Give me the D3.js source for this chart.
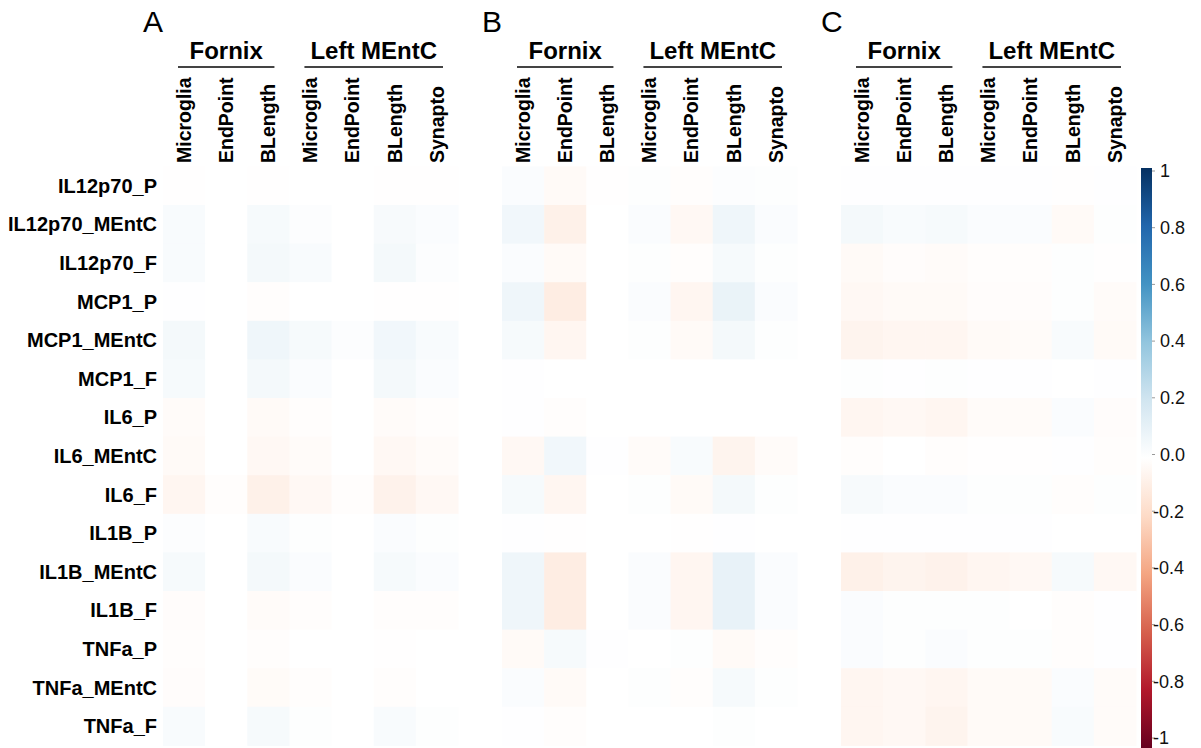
<!DOCTYPE html>
<html>
<head>
<meta charset="utf-8">
<script src="https://cdn.jsdelivr.net/npm/d3@7"></script>
<style>
  body { margin: 0; background: #fff; }
  svg { display: block; font-family: "Liberation Sans", Arial, sans-serif; }
</style>
</head>
<body>
<svg id="chart" width="1201" height="748"></svg>
<script>
// row / column categories
const rowLabels = ['IL12p70_P', 'IL12p70_MEntC', 'IL12p70_F', 'MCP1_P', 'MCP1_MEntC', 'MCP1_F',
  'IL6_P', 'IL6_MEntC', 'IL6_F', 'IL1B_P', 'IL1B_MEntC', 'IL1B_F', 'TNFa_P', 'TNFa_MEntC', 'TNFa_F'];
const colLabels = ['Microglia', 'EndPoint', 'BLength', 'Microglia', 'EndPoint', 'BLength', 'Synapto'];
const groups = [
  { name: 'Fornix', from: 0, to: 2 },
  { name: 'Left MEntC', from: 3, to: 6 }
];
const panelNames = ['A', 'B', 'C'];

// correlation values, rows x columns
const panelA = [
  [-0.005, 0, -0.005, 0, 0, -0.005, -0.005],
  [0.03, 0, 0.04, 0.015, 0, 0.035, 0.02],
  [0.03, 0, 0.05, 0.03, 0, 0.05, 0.015],
  [0.005, 0, -0.01, 0, 0, -0.005, -0.005],
  [0.05, 0, 0.07, 0.04, 0.015, 0.06, 0.03],
  [0.04, 0, 0.05, 0.02, 0, 0.05, 0.02],
  [-0.02, 0, -0.03, -0.01, 0, -0.02, -0.01],
  [-0.03, 0, -0.04, -0.02, 0, -0.04, -0.02],
  [-0.05, -0.01, -0.08, -0.04, -0.01, -0.07, -0.04],
  [0.015, 0, 0.03, 0.01, 0, 0.02, 0.01],
  [0.04, 0, 0.05, 0.02, 0, 0.04, 0.02],
  [-0.015, 0, -0.02, -0.01, 0, -0.01, -0.01],
  [-0.01, 0, -0.01, 0, 0, -0.005, 0],
  [-0.015, 0, -0.025, -0.01, 0, -0.01, 0],
  [0.03, 0, 0.04, 0.01, 0, 0.03, 0.01]
];
const panelB = [
  [0.02, -0.03, -0.005, 0.01, -0.01, 0.015, 0.01],
  [0.06, -0.08, 0, 0.02, -0.04, 0.07, 0.02],
  [0.02, -0.03, 0, 0.01, -0.01, 0.04, 0.01],
  [0.07, -0.1, 0, 0.02, -0.05, 0.09, 0.02],
  [0.04, -0.05, 0, 0.01, -0.03, 0.05, 0.01],
  [0.005, 0, 0, 0, 0, 0, 0],
  [0.005, -0.01, 0, 0, 0, 0, 0],
  [-0.04, 0.06, 0.005, -0.02, 0.03, -0.06, -0.02],
  [0.04, -0.05, 0, 0.01, -0.03, 0.05, 0.01],
  [0.005, -0.005, 0, 0, -0.005, 0.005, 0],
  [0.07, -0.1, 0, 0.02, -0.05, 0.1, 0.02],
  [0.07, -0.1, 0, 0.02, -0.05, 0.1, 0.02],
  [-0.03, 0.04, 0.005, 0, 0.01, -0.03, -0.01],
  [0.02, -0.03, 0, 0.01, -0.01, 0.04, 0.01],
  [0.005, -0.01, 0, 0, 0, 0.01, 0]
];
const panelC = [
  [0.005, 0.005, 0.005, 0.005, 0.005, -0.005, 0.005],
  [0.05, 0.03, 0.04, 0.02, 0.02, -0.03, 0.01],
  [-0.03, -0.015, -0.02, -0.01, -0.01, 0.01, -0.005],
  [-0.04, -0.03, -0.03, -0.015, -0.015, 0.01, -0.02],
  [-0.06, -0.05, -0.05, -0.03, -0.02, 0.03, -0.03],
  [0.01, 0.005, 0.01, 0.005, 0.005, 0, 0.005],
  [-0.05, -0.04, -0.05, -0.02, -0.02, 0.02, -0.015],
  [-0.01, 0, -0.01, -0.005, -0.005, 0.005, -0.01],
  [0.035, 0.02, 0.02, 0.01, 0.01, -0.01, 0.01],
  [0.005, 0.005, 0.005, 0.005, 0.005, 0, 0],
  [-0.08, -0.06, -0.07, -0.05, -0.04, 0.04, -0.04],
  [0.02, 0.01, 0.01, 0.01, 0, -0.01, 0.005],
  [0.02, 0.01, 0.02, 0.01, 0.01, -0.01, 0.005],
  [-0.05, -0.04, -0.05, -0.03, -0.03, 0.02, -0.02],
  [-0.05, -0.04, -0.06, -0.03, -0.03, 0.03, -0.02]
];
const panels = [panelA, panelB, panelC];
const legendTicks = [1, 0.8, 0.6, 0.4, 0.2, 0, -0.2, -0.4, -0.6, -0.8, -1];
const legendLabels = ['1', '0.8', '0.6', '0.4', '0.2', '0.0', '-0.2', '-0.4', '-0.6', '-0.8', '-1'];

// layout
const svg = d3.select('#chart');
const panelX = [163, 502, 841];
const gridWidth = 295;
const gridTop = 166.4;
const gridBottom = 745.4;

// corrplot RdBu ramp
const paletteStops = ['#67001F', '#B2182B', '#D6604D', '#F4A582', '#FDDBC7', '#FFFFFF',
  '#D1E5F0', '#92C5DE', '#4393C3', '#2166AC', '#053061'];
const color = d3.scaleLinear()
  .domain(d3.range(11).map(i => -1 + i * 0.2))
  .range(paletteStops)
  .interpolate(d3.interpolateRgb)
  .clamp(true);

const yScale = d3.scaleBand()
  .domain(rowLabels)
  .range([gridTop, gridBottom])
  .padding(0);

// row labels
svg.append('g')
  .selectAll('text')
  .data(rowLabels)
  .enter()
  .append('text')
  .attr('x', 157)
  .attr('y', d => yScale(d) + yScale.bandwidth() / 2)
  .attr('dy', '0.35em')
  .attr('text-anchor', 'end')
  .style('font-size', '20px')
  .style('font-weight', 'bold')
  .text(d => d);

panels.forEach((values, p) => {
  const x0 = panelX[p];
  const xScale = d3.scaleBand()
    .domain(d3.range(colLabels.length))
    .range([x0, x0 + gridWidth]);
  const g = svg.append('g').classed('panel', true);

  // cells
  const cells = [];
  values.forEach((row, i) => row.forEach((v, j) => cells.push({ r: rowLabels[i], c: j, v: v })));
  g.append('g')
    .selectAll('rect')
    .data(cells)
    .enter()
    .append('rect')
    .attr('x', d => xScale(d.c))
    .attr('y', d => yScale(d.r))
    .attr('width', xScale.bandwidth() + 0.5)
    .attr('height', yScale.bandwidth() + 0.5)
    .style('fill', d => color(d.v));

  // panel letter
  g.append('text')
    .attr('x', x0 - 20)
    .attr('y', 32)
    .style('font-size', '30px')
    .text(panelNames[p]);

  // group headers
  groups.forEach(grp => {
    const a = xScale(grp.from) + 15;
    const b = xScale(grp.to) + xScale.bandwidth() - 15;
    g.append('line')
      .attr('x1', a).attr('x2', b)
      .attr('y1', 67).attr('y2', 67)
      .style('stroke', '#444')
      .style('stroke-width', 2);
    g.append('text')
      .attr('x', (a + b) / 2)
      .attr('y', 59)
      .attr('text-anchor', 'middle')
      .style('font-size', '24px')
      .style('font-weight', 'bold')
      .text(grp.name);
  });

  // column labels
  g.append('g')
    .selectAll('text')
    .data(colLabels)
    .enter()
    .append('text')
    .attr('transform', (d, j) => `translate(${xScale(j) + xScale.bandwidth() / 2},163) rotate(-90)`)
    .attr('dy', '0.35em')
    .attr('text-anchor', 'start')
    .style('font-size', '19.5px')
    .style('font-weight', 'bold')
    .text(d => d);
});

// colour legend
const legendTop = 168, legendBottom = 748, legendX = 1141, legendW = 11;
const legendScale = d3.scaleLinear().domain([1, -1]).range([171, 738]);
const defs = svg.append('defs');
const grad = defs.append('linearGradient')
  .attr('id', 'legendGrad')
  .attr('x1', 0).attr('x2', 0).attr('y1', 0).attr('y2', 1);
grad.selectAll('stop')
  .data(d3.range(0, 1.0001, 0.1))
  .enter()
  .append('stop')
  .attr('offset', d => d)
  .attr('stop-color', d => color(1 - 2 * d));
svg.append('rect')
  .attr('x', legendX)
  .attr('y', legendTop)
  .attr('width', legendW)
  .attr('height', legendBottom - legendTop)
  .style('fill', 'url(#legendGrad)');

const legendG = svg.append('g');
legendG.selectAll('line')
  .data(legendTicks)
  .enter()
  .append('line')
  .attr('x1', legendX + legendW).attr('x2', legendX + legendW + 3)
  .attr('y1', d => legendScale(d)).attr('y2', d => legendScale(d))
  .style('stroke', '#999')
  .style('stroke-width', 1);
legendG.selectAll('text')
  .data(legendTicks)
  .enter()
  .append('text')
  .attr('x', d => d < 0 ? 1153 : 1160)
  .attr('y', d => legendScale(d))
  .attr('dy', '0.35em')
  .style('font-size', '18px')
  .style('fill', '#111')
  .text((d, i) => legendLabels[i]);
</script>
</body>
</html>
